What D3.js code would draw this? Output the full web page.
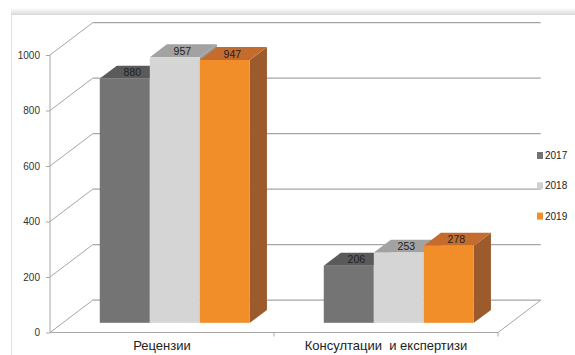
<!DOCTYPE html>
<html>
<head>
<meta charset="utf-8">
<script src="https://cdn.jsdelivr.net/npm/d3@7"></script>
<style>
  html, body { margin: 0; padding: 0; background: #fff; }
  svg { display: block; }
  text { font-family: "Liberation Sans", Arial, sans-serif; }
</style>
</head>
<body>
<svg id="chart" width="575" height="355"></svg>
<script>
// Activity counts per year
const categories = ["Рецензии", "Консултации  и експертизи"];
const years = ["2017", "2018", "2019"];
const values2017 = [880, 206];
const values2018 = [957, 253];
const values2019 = [947, 278];
const yTicks = [0, 200, 400, 600, 800, 1000];

const seriesValues = [values2017, values2018, values2019];
const palette = {
  "2017": { front: "#747474", top: "#5a5a5a", side: "#4e4e4e", key: "#747474" },
  "2018": { front: "#d5d5d5", top: "#a2a2a2", side: "#9a9a9a", key: "#d0d0d0" },
  "2019": { front: "#f28e2a", top: "#c36c2e", side: "#9c5b2c", key: "#f28e2a" }
};

const svg = d3.select("#chart");

// card frame: shadow on top edge, thin left edge
const defs = svg.append("defs");
const grad = defs.append("linearGradient").attr("id", "topShade")
  .attr("x1", 0).attr("y1", 0).attr("x2", 0).attr("y2", 1);
grad.append("stop").attr("offset", "0%").attr("stop-color", "#ffffff");
grad.append("stop").attr("offset", "100%").attr("stop-color", "#d8d8d8");
svg.append("rect").attr("x", 11).attr("y", 8).attr("width", 564).attr("height", 7)
  .attr("fill", "url(#topShade)");
svg.append("line").attr("x1", 11.5).attr("x2", 11.5).attr("y1", 15).attr("y2", 355)
  .attr("stroke", "#e2e2e2").attr("stroke-width", 1);

// 3D projection: full floor depth vector
const depth = { dx: 42.7, dy: -32.3 };
const barOffset = 0.3;   // bars start 30% into the depth
const barDepth = 0.4;    // bars are 40% of the depth

const y = d3.scaleLinear().domain([0, 1000]).range([332.5, 55]);
const x = d3.scaleBand().domain(categories).range([50, 498]).padding(0);
const groupWidth = x.bandwidth() * 0.67;
const x1 = d3.scaleBand().domain(years).range([0, groupWidth]).padding(0);

const grid = "#a6a6a6";
const g = svg.append("g");

// back wall gridlines + left wall diagonals
yTicks.forEach(t => {
  const yb = y(t) + depth.dy;
  g.append("line")
    .attr("x1", 50 + depth.dx).attr("x2", 498 + depth.dx)
    .attr("y1", yb).attr("y2", yb)
    .attr("stroke", grid).attr("stroke-width", 1.2);
  g.append("line")
    .attr("x1", 50).attr("y1", y(t))
    .attr("x2", 50 + depth.dx).attr("y2", yb)
    .attr("stroke", grid).attr("stroke-width", 1);
});

// floor: front edge and right edge
g.append("line").attr("x1", 50).attr("x2", 498).attr("y1", y(0)).attr("y2", y(0))
  .attr("stroke", grid).attr("stroke-width", 1);
g.append("line").attr("x1", 498).attr("y1", y(0))
  .attr("x2", 498 + depth.dx).attr("y2", y(0) + depth.dy)
  .attr("stroke", grid).attr("stroke-width", 1);

// value axis
const yAxis = d3.axisLeft(y).tickValues(yTicks).tickFormat(d3.format("d"))
  .tickSize(4).tickPadding(6);
const ax = svg.append("g").attr("transform", "translate(50,0)").call(yAxis);
ax.select(".domain").attr("stroke", grid).attr("d", `M-0,${y(1000)}V${y(0)}`);
ax.selectAll(".tick line").attr("stroke", grid);
ax.selectAll(".tick text").style("font-size", "10px").attr("fill", "#333")
  .style("font-family", "'Liberation Sans', Arial, sans-serif");

// category axis ticks and labels
const xAxis = d3.axisBottom(x).tickSize(0).tickPadding(8);
const cx = svg.append("g").attr("transform", `translate(0,${y(0)})`).call(xAxis);
cx.select(".domain").remove();
cx.selectAll(".tick text").style("font-size", "13px").attr("fill", "#222")
  .style("white-space", "pre")
  .style("font-family", "'Liberation Sans', Arial, sans-serif");
[x(categories[0]) + x.bandwidth(), x(categories[1]) + x.bandwidth()].forEach(px => {
  svg.append("line").attr("x1", px).attr("x2", px).attr("y1", y(0)).attr("y2", y(0) + 4)
    .attr("stroke", grid);
});

// bars
const ox = depth.dx * barOffset, oy = depth.dy * barOffset;
const bx = depth.dx * barDepth, by = depth.dy * barDepth;
const bars = svg.append("g");
categories.forEach((cat, ci) => {
  const groupLeft = x(cat) + (x.bandwidth() - groupWidth) / 2 + ox;
  years.forEach((yr, si) => {
    const v = seriesValues[si][ci];
    const c = palette[yr];
    const x0 = groupLeft + x1(yr), w = x1.bandwidth();
    const yTop = y(v) + oy, yBot = y(0) + oy;
    // side face
    bars.append("path")
      .attr("d", `M${x0 + w},${yTop}L${x0 + w + bx},${yTop + by}L${x0 + w + bx},${yBot + by}L${x0 + w},${yBot}Z`)
      .attr("fill", c.side);
    // top face
    bars.append("path")
      .attr("d", `M${x0},${yTop}L${x0 + bx},${yTop + by}L${x0 + w + bx},${yTop + by}L${x0 + w},${yTop}Z`)
      .attr("fill", c.top);
    // front face
    bars.append("rect").attr("x", x0).attr("y", yTop).attr("width", w).attr("height", yBot - yTop)
      .attr("fill", c.front);
    // value label on the top face
    bars.append("text")
      .attr("x", x0 + w / 2 + bx / 2 - 1).attr("y", yTop + by / 2)
      .attr("text-anchor", "middle").attr("dominant-baseline", "central")
      .style("font-size", "10.5px").attr("fill", "#222")
      .text(v);
  });
});

// legend
const legend = svg.append("g");
years.forEach((yr, i) => {
  const ly = 155.5 + i * 30.3;
  legend.append("rect").attr("x", 537).attr("y", ly - 3.5).attr("width", 6).attr("height", 7)
    .attr("fill", palette[yr].key);
  legend.append("text").attr("x", 545).attr("y", ly).attr("dominant-baseline", "central")
    .style("font-size", "10px").attr("fill", "#222").text(yr);
});
</script>
</body>
</html>
